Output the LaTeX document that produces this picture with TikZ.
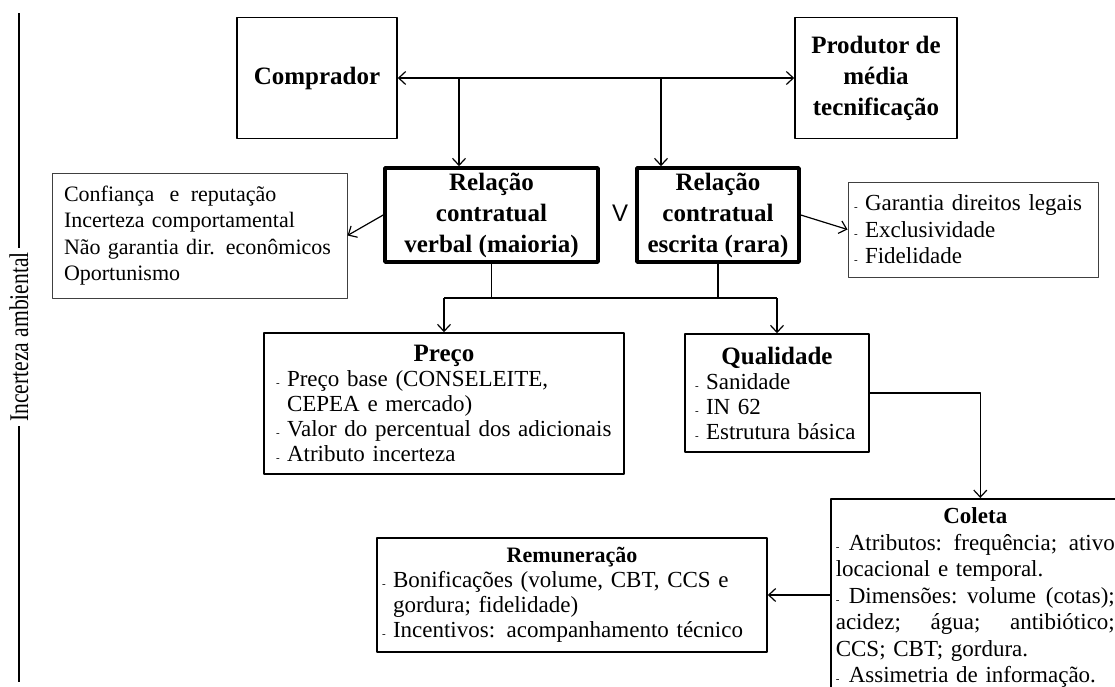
\documentclass[tikz,border=0pt]{standalone}
\usepackage{fontspec}
\setmainfont{Liberation Serif}
\newfontfamily\symfont{Liberation Sans}
\newfontfamily\sidefont[FakeStretch=0.8]{Liberation Serif}
\usetikzlibrary{arrows.meta}
\newcommand{\dsh}{\makebox[11pt][l]{\fontsize{11}{11}\selectfont -}}
\newcommand{\ind}{\hspace*{11pt}}
\newcommand{\ttl}[2]{\makebox[\hsize]{\fontsize{#1}{#1}\selectfont\bfseries #2}}
\newcommand{\fullline}[1]{\leavevmode\hbox to\hsize{#1}}

\begin{document}
\begin{tikzpicture}[x=1pt,y=-1pt,line join=round,>={Straight Barb[length=7pt,width=13pt]},
  actor/.style={draw,line width=1.6pt,inner sep=0pt,align=center,font=\fontsize{25}{31}\selectfont\bfseries},
  relbox/.style={draw,line width=3.6pt,inner sep=0pt,align=center,font=\fontsize{25}{31}\selectfont\bfseries},
  infobox/.style={draw=black!75,line width=1pt,inner sep=0pt,align=left,font=\fontsize{22}{26.5}\selectfont},
  itembox/.style={draw,line width=1.6pt,inner sep=0pt,align=left,font=\fontsize{23}{25}\selectfont},
  link/.style={line width=1.2pt}]
  \useasboundingbox (0,0) rectangle (1115,686);
  \clip (0,0) rectangle (1115,686);

  % side label
  \node[rotate=90,inner sep=4pt,font=\sidefont\fontsize{27}{27}\selectfont] (amb) at (19,337) {Incerteza ambiental};
  \draw[link] (amb.east) -- (19,13);
  \draw[link] (amb.west) -- (19,682);

  % agents
  \node[actor,minimum width=160,minimum height=121] (comp) at (317,78) {Comprador};
  \node[actor,minimum width=162,minimum height=121] (prod) at (876,78) {Produtor de\\média\\tecnificação};
  \draw[link,<->] (comp.east) -- (prod.west);
  \coordinate (c1) at (459,78);
  \coordinate (c2) at (661,78);

  % contracts
  \node[relbox,minimum width=213,minimum height=94] (verbal) at (491.5,215) {Relação\\contratual\\verbal (maioria)};
  \node[relbox,minimum width=162,minimum height=94] (escrita) at (718,215) {Relação\\contratual\\escrita (rara)};
  \node[font=\symfont\fontsize{24}{24}\selectfont] (ou) at (620,213) {V};
  \draw[link,->] (c1) -- (c1 |- verbal.north);
  \draw[link,->] (c2) -- (c2 |- escrita.north);

  \node[infobox,minimum width=295,minimum height=125,text width=271] (conf) at (199.5,235.5)
    {Confiança\hspace{8pt} e\hspace{4pt} reputação\\Incerteza comportamental\\Não garantia dir. econômicos\\Oportunismo};
  \node[infobox,minimum width=250,minimum height=95,text width=238,font=\fontsize{23}{26.5}\selectfont] (garant) at (973,229.5)
    {\dsh Garantia direitos legais\\\dsh Exclusividade\\\dsh Fidelidade};
  \draw[link,->] (verbal.west) -- (conf.east);
  \draw[link,->] (escrita.east) -- (garant.west);

  % attributes
  \node[itembox,minimum width=360,minimum height=141,text width=336] (preco) at (444,403.5)
    {\ttl{25}{Preço}\\
     \dsh Preço base (CONSELEITE,\\
     \ind CEPEA e mercado)\\
     \dsh Valor do percentual dos adicionais\\
     \dsh Atributo incerteza};
  \node[itembox,minimum width=184,minimum height=118,text width=164] (qual) at (777,393)
    {\ttl{25}{Qualidade}\\
     \dsh Sanidade\\
     \dsh IN 62\\
     \dsh Estrutura básica};
  \coordinate (bus) at (600,298);
  \draw[link] (verbal.south) -- (verbal.south |- bus);
  \draw[link] (escrita.south) -- (escrita.south |- bus);
  \draw[link] (preco.north |- bus) -- (qual.north |- bus);
  \draw[link,->] (preco.north |- bus) -- (preco.north);
  \draw[link,->] (qual.north |- bus) -- (qual.north);

  % collection and payment
  \node[itembox,anchor=north west,inner xsep=5pt,inner ysep=9pt,text width=279,font=\fontsize{23}{26.5}\selectfont] (coleta) at (830,498)
    {\ttl{23}{Coleta}\\
     \fullline{\dsh\hspace{2pt}Atributos:\hfil frequência;\hfil ativo}\\
     locacional e temporal.\\
     \fullline{\dsh\hspace{2pt}Dimensões:\hfil volume\hfil (cotas);}\\
     \fullline{acidez;\hfil água;\hfil antibiótico;}\\
     CCS; CBT; gordura.\\
     \dsh\hspace{2pt}Assimetria de informação.\\
     ~};
  \node[itembox,minimum width=390,minimum height=114,text width=380] (rem) at (572,595)
    {\ttl{22}{Remuneração}\\
     \dsh Bonificações (volume, CBT, CCS e\\
     \ind gordura; fidelidade)\\
     \dsh Incentivos: acompanhamento técnico};
  \draw[link,->] (qual.east) -| ([xshift=5pt]coleta.north);
  \draw[link,->] (rem.east -| coleta.west) -- (rem.east);
\end{tikzpicture}
\end{document}
